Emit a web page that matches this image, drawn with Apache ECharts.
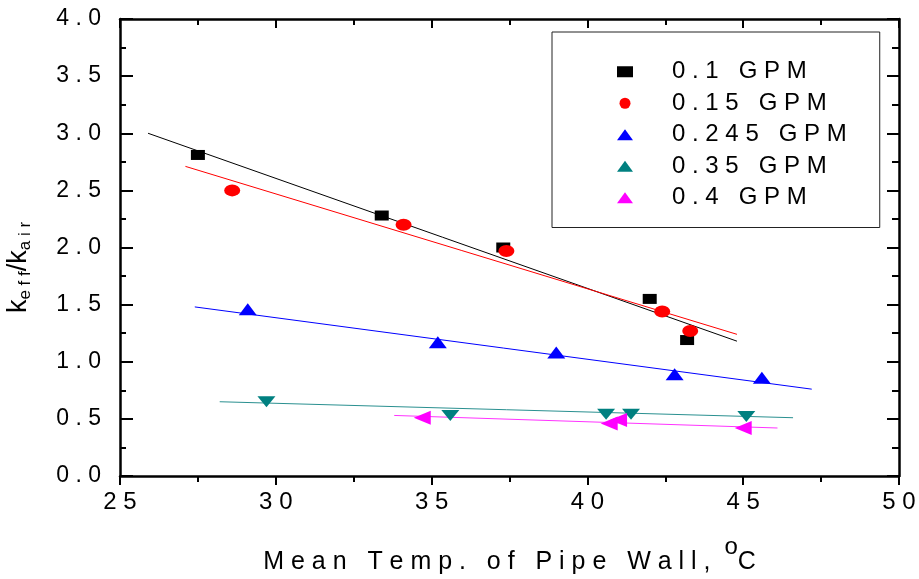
<!DOCTYPE html>
<html>
<head>
<meta charset="utf-8">
<script src="https://cdn.jsdelivr.net/npm/echarts@6/dist/echarts.min.js"></script>
<style>
  html, body { margin: 0; padding: 0; background: #fff; }
  #chart { width: 919px; height: 579px; }
</style>
</head>
<body>
<div id="chart"></div>
<script>
// measured points: mean wall temperature (C) and keff/kair
const temp01 = [27.5, 33.4, 37.3, 42.0, 43.2];
const k01 = [2.81, 2.28, 2.00, 1.55, 1.19];
const temp015 = [28.6, 34.1, 37.4, 42.4, 43.3];
const k015 = [2.50, 2.20, 1.97, 1.44, 1.27];
const temp0245 = [29.1, 35.2, 39.0, 42.8, 45.6];
const k0245 = [1.46, 1.17, 1.08, 0.89, 0.86];
const temp035 = [29.7, 35.6, 40.6, 41.4, 45.1];
const k035 = [0.65, 0.53, 0.54, 0.54, 0.52];
const temp04 = [34.7, 40.7, 41.0, 45.0];
const k04 = [0.51, 0.46, 0.49, 0.42];

// linear fit lines, start and end
const fitT01 = [25.9, 44.8];   const fitK01 = [3.00, 1.18];
const fitT015 = [27.1, 44.8];  const fitK015 = [2.71, 1.24];
const fitT0245 = [27.4, 47.2]; const fitK0245 = [1.48, 0.76];
const fitT035 = [28.2, 46.6];  const fitK035 = [0.65, 0.51];
const fitT04 = [33.8, 46.1];   const fitK04 = [0.53, 0.42];

const flowNames = ['0.1 GPM', '0.15 GPM', '0.245 GPM', '0.35 GPM', '0.4 GPM'];

const FONT = "'Liberation Sans', Arial, sans-serif";
const NARROW = "'Liberation Sans Narrow', 'Liberation Sans', Arial, sans-serif";

function spaced(s) {
  return String(s).split('').join(' ');
}
function pairs(xs, ys) {
  return xs.map((x, i) => [x, ys[i]]);
}

const myChart = echarts.init(document.getElementById('chart'));

function scatter(name, xs, ys, color, symbol, size, rotate) {
  return {
    name: name,
    type: 'scatter',
    data: pairs(xs, ys),
    symbol: symbol,
    symbolSize: size,
    symbolRotate: rotate || 0,
    itemStyle: { color: color, opacity: 1 },
    z: 5
  };
}
function fit(xs, ys, color) {
  return {
    name: 'fit',
    type: 'line',
    data: pairs(xs, ys),
    showSymbol: false,
    symbol: 'none',
    silent: true,
    lineStyle: { color: color, width: 1 },
    z: 3
  };
}
// each axis gets its own objects
function line() {
  return { show: true, onZero: false, lineStyle: { color: '#000', width: 2.5 } };
}
function ticks(inside, len) {
  return { show: true, inside: inside, length: len, lineStyle: { color: '#000', width: 2 } };
}
function minor(len) {
  return { show: true, splitNumber: 2, length: len, lineStyle: { color: '#000', width: 2 } };
}

myChart.setOption({
  animation: false,
  backgroundColor: '#fff',
  grid: { left: 120, right: 20, top: 19, bottom: 103, containLabel: false, outerBoundsMode: 'none' },
  legend: {
    orient: 'vertical',
    left: 552,
    top: 32,
    data: flowNames,
    itemWidth: 16,
    itemHeight: 11,
    itemGap: 0,
    padding: [24, 33, 14, 65],
    borderColor: '#222',
    borderWidth: 1,
    textStyle: { fontSize: 24, lineHeight: 31.5, color: '#000', fontFamily: FONT, padding: [0, 0, 0, 34] },
    formatter: function (n) { return spaced(n); }
  },
  xAxis: [
    {
      type: 'value', position: 'bottom', min: 25, max: 50, interval: 5,
      axisLine: line(),
      axisTick: ticks(false, 9),
      minorTick: minor(6),
      splitLine: { show: false },
      axisLabel: { fontSize: 24, color: '#000', margin: 14, fontFamily: FONT,
        formatter: function (v) { return spaced(v); } },
      name: 'M e a n   T e m p .   o f   P i p e   W a l l ,  {sup|o}C',
      nameLocation: 'middle',
      nameGap: 59,
      nameTextStyle: {
        fontSize: 25, color: '#000', fontFamily: NARROW, lineHeight: 54,
        rich: { sup: { fontSize: 24, fontFamily: NARROW, verticalAlign: 'top', color: '#000' } }
      }
    },
    {
      type: 'value', position: 'top', min: 25, max: 50, interval: 5,
      axisLine: line(),
      axisTick: ticks(true, 9),
      minorTick: minor(6),
      splitLine: { show: false },
      axisLabel: { show: false }
    }
  ],
  yAxis: [
    {
      type: 'value', position: 'left', min: 0, max: 4, interval: 0.5,
      axisLine: line(),
      axisTick: ticks(true, 13),
      minorTick: minor(6),
      splitLine: { show: false },
      axisLabel: { fontSize: 23, color: '#000', margin: 19, fontFamily: FONT,
        formatter: function (v) { return spaced(v.toFixed(1)); } },
      name: 'k{sub|e f f}/k{sub|a i r}',
      nameLocation: 'middle',
      nameRotate: 90,
      nameGap: 86,
      nameTextStyle: {
        fontSize: 27, color: '#000', fontFamily: FONT, lineHeight: 30,
        padding: [0, 40, 0, 0],
        rich: { sub: { fontSize: 17, fontFamily: FONT, lineHeight: 6, verticalAlign: 'bottom', color: '#000' } }
      }
    },
    {
      type: 'value', position: 'right', min: 0, max: 4, interval: 0.5,
      axisLine: line(),
      axisTick: ticks(true, 12),
      minorTick: minor(7),
      splitLine: { show: false },
      axisLabel: { show: false }
    }
  ],
  series: [
    fit(fitT01, fitK01, '#000000'),
    fit(fitT015, fitK015, '#ff0000'),
    fit(fitT0245, fitK0245, '#0000ff'),
    fit(fitT035, fitK035, '#2a9090'),
    fit(fitT04, fitK04, '#ff33ff'),
    scatter(flowNames[0], temp01, k01, '#000000', 'rect', [14, 10]),
    scatter(flowNames[1], temp015, k015, '#ff0000', 'circle', [16, 12]),
    scatter(flowNames[2], temp0245, k0245, '#0000ff', 'triangle', [18, 12]),
    scatter(flowNames[3], temp035, k035, '#008080', 'triangle', [18, 11], 180),
    scatter(flowNames[4], temp04, k04, '#ff00ff', 'triangle', [14, 17], 90)
  ]
});
</script>
</body>
</html>
